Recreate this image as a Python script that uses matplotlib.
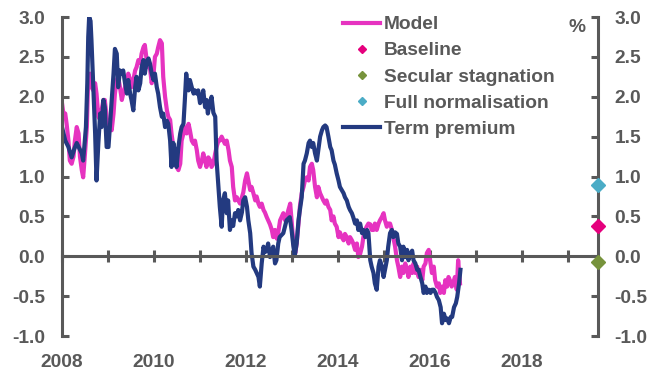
import matplotlib.pyplot as plt
from matplotlib.lines import Line2D
import numpy as np

# Model-implied term premium, % (fractional years)
model_years = [2008.00, 2008.03, 2008.07, 2008.10, 2008.14, 2008.17, 2008.21, 2008.25, 2008.28, 2008.32,
               2008.36, 2008.39, 2008.43, 2008.46, 2008.50, 2008.54, 2008.57, 2008.61, 2008.64, 2008.68,
               2008.72, 2008.75, 2008.79, 2008.83, 2008.86, 2008.90, 2008.93, 2008.97, 2009.01, 2009.04,
               2009.08, 2009.12, 2009.15, 2009.19, 2009.22, 2009.26, 2009.30, 2009.33, 2009.37, 2009.41,
               2009.44, 2009.48, 2009.51, 2009.55, 2009.59, 2009.62, 2009.66, 2009.70, 2009.73, 2009.77,
               2009.80, 2009.84, 2009.88, 2009.91, 2009.95, 2009.99, 2010.02, 2010.06, 2010.09, 2010.13,
               2010.17, 2010.20, 2010.24, 2010.28, 2010.31, 2010.35, 2010.38, 2010.42, 2010.46, 2010.49,
               2010.53, 2010.57, 2010.60, 2010.64, 2010.67, 2010.71, 2010.75, 2010.78, 2010.82, 2010.86,
               2010.89, 2010.93, 2010.96, 2011.00, 2011.04, 2011.07, 2011.11, 2011.14, 2011.18, 2011.22,
               2011.25, 2011.29, 2011.33, 2011.36, 2011.40, 2011.43, 2011.47, 2011.51, 2011.54, 2011.58,
               2011.62, 2011.65, 2011.69, 2011.72, 2011.76, 2011.80, 2011.83, 2011.87, 2011.91, 2011.94,
               2011.98, 2012.02, 2012.05, 2012.09, 2012.12, 2012.16, 2012.20, 2012.23, 2012.27, 2012.30,
               2012.34, 2012.38, 2012.41, 2012.45, 2012.48, 2012.52, 2012.56, 2012.59, 2012.63, 2012.67,
               2012.70, 2012.74, 2012.77, 2012.81, 2012.85, 2012.88, 2012.92, 2012.96, 2012.99, 2013.03,
               2013.07, 2013.10, 2013.14, 2013.17, 2013.21, 2013.25, 2013.28, 2013.32, 2013.36, 2013.39,
               2013.43, 2013.46, 2013.50, 2013.54, 2013.57, 2013.61, 2013.65, 2013.68, 2013.72, 2013.75,
               2013.79, 2013.83, 2013.86, 2013.90, 2013.93, 2013.97, 2014.01, 2014.04, 2014.08, 2014.12,
               2014.15, 2014.19, 2014.23, 2014.26, 2014.30, 2014.33, 2014.37, 2014.41, 2014.44, 2014.48,
               2014.52, 2014.55, 2014.59, 2014.62, 2014.66, 2014.70, 2014.73, 2014.77, 2014.80, 2014.84,
               2014.88, 2014.91, 2014.95, 2014.99, 2015.02, 2015.06, 2015.09, 2015.13, 2015.17, 2015.20,
               2015.24, 2015.28, 2015.31, 2015.35, 2015.39, 2015.42, 2015.46, 2015.50, 2015.53, 2015.57,
               2015.61, 2015.64, 2015.68, 2015.72, 2015.75, 2015.79, 2015.83, 2015.86, 2015.90, 2015.93,
               2015.97, 2016.00, 2016.04, 2016.08, 2016.11, 2016.15, 2016.19, 2016.22, 2016.26, 2016.30,
               2016.33, 2016.37, 2016.40, 2016.43, 2016.47, 2016.50, 2016.54, 2016.58, 2016.61, 2016.65]
model_vals = [1.92, 1.79, 1.79, 1.66, 1.45, 1.20, 1.16, 1.25, 1.45, 1.62,
              1.54, 1.25, 1.08, 0.99, 1.29, 1.62, 2.25, 2.29, 2.12, 2.08,
              2.17, 2.04, 1.75, 1.71, 1.83, 1.96, 1.96, 1.75, 1.54, 1.71,
              1.58, 1.79, 2.04, 2.21, 2.25, 2.12, 1.96, 2.04, 2.12, 2.21,
              2.29, 2.21, 2.12, 2.21, 2.33, 2.37, 2.46, 2.42, 2.54, 2.62,
              2.65, 2.46, 2.37, 2.37, 2.17, 2.29, 2.50, 2.54, 2.62, 2.71,
              2.67, 2.25, 2.00, 1.83, 1.75, 1.71, 1.54, 1.37, 1.24, 1.12,
              1.08, 1.16, 1.45, 1.54, 1.62, 1.54, 1.66, 1.58, 1.45, 1.41,
              1.45, 1.33, 1.20, 1.12, 1.20, 1.29, 1.20, 1.12, 1.24, 1.20,
              1.12, 1.16, 1.29, 1.37, 1.45, 1.45, 1.50, 1.45, 1.41, 1.45,
              1.33, 1.20, 1.12, 0.87, 0.70, 0.74, 0.70, 0.66, 0.74, 0.80,
              0.95, 1.04, 0.95, 0.83, 0.87, 0.79, 0.70, 0.75, 0.66, 0.62,
              0.66, 0.58, 0.55, 0.49, 0.45, 0.40, 0.33, 0.24, 0.33, 0.22,
              0.30, 0.45, 0.49, 0.54, 0.45, 0.49, 0.58, 0.66, 0.45, 0.16,
              0.04, 0.16, 0.41, 0.62, 0.79, 0.87, 0.95, 0.99, 0.95, 1.12,
              1.16, 1.08, 0.87, 0.74, 0.87, 0.79, 0.74, 0.70, 0.66, 0.70,
              0.62, 0.58, 0.45, 0.50, 0.41, 0.37, 0.24, 0.30, 0.24, 0.20,
              0.28, 0.24, 0.16, 0.24, 0.20, 0.16, 0.08, 0.16, -0.01, 0.03,
              0.12, 0.24, 0.33, 0.37, 0.41, 0.40, 0.33, 0.33, 0.41, 0.33,
              0.41, 0.45, 0.49, 0.54, 0.45, 0.37, 0.41, 0.41, 0.33, 0.24,
              0.12, -0.05, -0.13, -0.26, -0.13, -0.21, -0.09, -0.17, -0.26, -0.13,
              -0.21, -0.09, -0.21, -0.13, -0.26, -0.17, -0.30, -0.13, -0.09, 0.04,
              0.08, -0.05, -0.21, -0.13, -0.30, -0.38, -0.34, -0.46, -0.38, -0.46,
              -0.30, -0.38, -0.26, -0.30, -0.38, -0.34, -0.26, -0.42, -0.05, -0.34]

# Estimated term premium, %
tp_years = [2008.00, 2008.07, 2008.14, 2008.21, 2008.27, 2008.32, 2008.38, 2008.43, 2008.46, 2008.52,
            2008.55, 2008.57, 2008.59, 2008.62, 2008.64, 2008.68, 2008.72, 2008.75, 2008.79, 2008.83,
            2008.86, 2008.90, 2008.93, 2008.97, 2009.01, 2009.04, 2009.08, 2009.12, 2009.15, 2009.19,
            2009.22, 2009.26, 2009.30, 2009.33, 2009.37, 2009.41, 2009.44, 2009.48, 2009.51, 2009.55,
            2009.59, 2009.62, 2009.66, 2009.70, 2009.73, 2009.77, 2009.80, 2009.84, 2009.88, 2009.91,
            2009.95, 2009.99, 2010.02, 2010.06, 2010.09, 2010.13, 2010.17, 2010.20, 2010.24, 2010.28,
            2010.31, 2010.35, 2010.38, 2010.42, 2010.46, 2010.49, 2010.53, 2010.57, 2010.60, 2010.64,
            2010.67, 2010.70, 2010.72, 2010.75, 2010.78, 2010.82, 2010.86, 2010.89, 2010.93, 2010.96,
            2011.00, 2011.04, 2011.07, 2011.11, 2011.14, 2011.17, 2011.21, 2011.25, 2011.29, 2011.33,
            2011.36, 2011.40, 2011.43, 2011.47, 2011.50, 2011.54, 2011.58, 2011.61, 2011.65, 2011.69,
            2011.72, 2011.76, 2011.80, 2011.83, 2011.87, 2011.91, 2011.94, 2011.98, 2012.02, 2012.05,
            2012.09, 2012.12, 2012.16, 2012.20, 2012.23, 2012.27, 2012.30, 2012.34, 2012.38, 2012.41,
            2012.45, 2012.48, 2012.52, 2012.59, 2012.63, 2012.66, 2012.70, 2012.73, 2012.81, 2012.88,
            2012.95, 2012.99, 2013.03, 2013.06, 2013.10, 2013.14, 2013.17, 2013.21, 2013.25, 2013.28,
            2013.32, 2013.36, 2013.39, 2013.43, 2013.46, 2013.50, 2013.54, 2013.57, 2013.61, 2013.65,
            2013.68, 2013.72, 2013.75, 2013.79, 2013.83, 2013.86, 2013.90, 2013.93, 2013.97, 2014.01,
            2014.04, 2014.08, 2014.12, 2014.15, 2014.19, 2014.23, 2014.26, 2014.30, 2014.33, 2014.37,
            2014.41, 2014.44, 2014.48, 2014.52, 2014.55, 2014.59, 2014.63, 2014.66, 2014.70, 2014.73,
            2014.77, 2014.80, 2014.84, 2014.88, 2014.91, 2014.95, 2014.99, 2015.02, 2015.06, 2015.09,
            2015.13, 2015.17, 2015.20, 2015.24, 2015.28, 2015.31, 2015.35, 2015.39, 2015.42, 2015.46,
            2015.50, 2015.53, 2015.57, 2015.61, 2015.64, 2015.68, 2015.72, 2015.75, 2015.79, 2015.83,
            2015.86, 2015.90, 2015.93, 2015.97, 2016.01, 2016.04, 2016.08, 2016.12, 2016.15, 2016.19,
            2016.23, 2016.26, 2016.30, 2016.34, 2016.37, 2016.41, 2016.45, 2016.48, 2016.52, 2016.56,
            2016.59, 2016.63, 2016.66]
tp_vals = [1.62, 1.45, 1.37, 1.24, 1.35, 1.42, 1.35, 1.29, 1.20, 1.62,
           2.17, 2.75, 3.00, 2.95, 2.71, 2.12, 1.54, 0.95, 1.42, 1.79,
           1.62, 1.96, 1.87, 1.37, 1.37, 1.62, 1.96, 2.29, 2.60, 2.54,
           2.12, 2.33, 2.29, 2.33, 2.17, 2.04, 2.21, 2.04, 1.96, 1.83,
           2.12, 2.25, 2.08, 2.17, 2.37, 2.46, 2.29, 2.44, 2.48, 2.42,
           2.29, 2.21, 2.29, 2.12, 2.04, 1.87, 1.75, 1.79, 1.62, 1.70,
           1.66, 1.45, 1.12, 1.42, 1.29, 1.12, 1.37, 1.54, 1.62, 1.66,
           1.96, 2.29, 2.17, 2.08, 2.21, 2.12, 2.04, 2.08, 2.04, 2.08,
           1.92, 1.99, 2.08, 1.87, 1.96, 1.79, 1.92, 2.00, 1.80, 1.75,
           1.20, 0.87, 0.62, 0.37, 0.70, 0.79, 0.54, 0.70, 0.33, 0.45,
           0.38, 0.54, 0.50, 0.58, 0.45, 0.55, 0.70, 0.74, 0.62, 0.45,
           0.29, 0.04, -0.13, -0.17, -0.21, -0.26, -0.38, -0.09, 0.12, 0.05,
           0.08, 0.16, -0.01, 0.12, -0.09, -0.05, 0.16, 0.24, 0.29, 0.45,
           0.49, 0.33, 0.12, 0.01, 0.16, 0.45, 0.58, 0.74, 1.16, 1.20,
           1.29, 1.42, 1.45, 1.37, 1.42, 1.29, 1.20, 1.33, 1.50, 1.58,
           1.62, 1.64, 1.62, 1.50, 1.37, 1.33, 1.20, 1.15, 1.04, 0.95,
           0.87, 0.83, 0.79, 0.74, 0.70, 0.62, 0.58, 0.54, 0.49, 0.41,
           0.45, 0.33, 0.41, 0.29, 0.33, 0.24, 0.33, 0.29, -0.05, -0.13,
           -0.21, -0.34, -0.42, -0.13, -0.05, -0.12, -0.26, -0.17, -0.05, 0.12,
           0.29, 0.33, 0.24, 0.30, 0.28, 0.16, 0.12, -0.05, 0.12, -0.01,
           0.08, -0.05, 0.03, 0.07, -0.05, -0.09, -0.17, -0.17, -0.26, -0.34,
           -0.46, -0.38, -0.46, -0.42, -0.46, -0.42, -0.42, -0.46, -0.51, -0.55,
           -0.64, -0.84, -0.72, -0.80, -0.78, -0.84, -0.76, -0.76, -0.64, -0.59,
           -0.51, -0.34, -0.17]

# Scenario end-points
scenario_names = ['Baseline', 'Secular stagnation', 'Full normalisation']
scenario_vals = [0.38, -0.07, 0.89]
scenario_year = 2019.65
scenario_colors = ['#E5007D', '#77933C', '#4BACC6']

year_labels = [2008, 2010, 2012, 2014, 2016, 2018]

GREY = '#595959'
PINK = '#E633C0'
NAVY = '#233A80'
FS = 13.8

plt.rcParams['font.family'] = ['Liberation Sans', 'DejaVu Sans']
plt.rcParams['font.weight'] = 'bold'
plt.rcParams['axes.unicode_minus'] = False

fig = plt.figure(figsize=(6.52, 3.74), dpi=100)
ax = fig.add_axes([0.0951, 0.1016, 0.8221, 0.8529])

ax.plot(model_years, model_vals, color=PINK, lw=3.0, solid_joinstyle='round')
ax.plot(tp_years, tp_vals, color=NAVY, lw=3.0, solid_joinstyle='round')
for v, c in zip(scenario_vals, scenario_colors):
    ax.plot([scenario_year], [v], ls='', marker='D', ms=6.8, color=c,
            clip_on=False, zorder=5)

ax.set_xlim(2008, scenario_year)
ax.set_ylim(-1, 3)

# spines: left/right full height, x-axis line through zero
ax.spines['top'].set_visible(False)
for s in ['left', 'right', 'bottom']:
    ax.spines[s].set_color(GREY)
    ax.spines[s].set_linewidth(2.2)
ax.spines['bottom'].set_position(('data', 0))

ax.set_xticks(np.arange(2008, 2020))
ax.tick_params(axis='x', direction='inout', length=8, width=2.2, color=GREY,
               labelbottom=False)

yt = np.arange(-1, 3.01, 0.5)
ax.set_yticks(yt, labels=['%.1f' % v for v in yt])
ax.tick_params(axis='y', direction='in', length=5, width=2.2, color=GREY,
               left=True, right=True, labelleft=True, labelright=True,
               labelsize=FS, labelcolor=GREY, pad=12)

# year labels along the bottom edge
sec = ax.secondary_xaxis('bottom')
sec.set_xticks(year_labels, labels=[str(y) for y in year_labels])
sec.tick_params(length=0, pad=13, labelsize=FS, labelcolor=GREY)
sec.spines['bottom'].set_visible(False)

fig.text(577 / 652, 1 - 28 / 374, '%', ha='center', va='center',
         fontsize=FS, color=GREY)

handles = [Line2D([], [], color=PINK, lw=3.0)]
handles += [Line2D([], [], ls='', marker='D', ms=4.4, color=c) for c in scenario_colors]
handles += [Line2D([], [], color=NAVY, lw=3.0)]
labels = ['Model'] + scenario_names + ['Term premium']
leg = fig.legend(handles, labels, loc='upper left',
                 bbox_to_anchor=(343 / 652, 1 - 16 / 374), frameon=False,
                 fontsize=FS, handlelength=1.95, handletextpad=0.2,
                 labelspacing=0.45, borderpad=0, borderaxespad=0)
for t in leg.get_texts():
    t.set_color(GREY)

plt.savefig('out.png', dpi=100)
